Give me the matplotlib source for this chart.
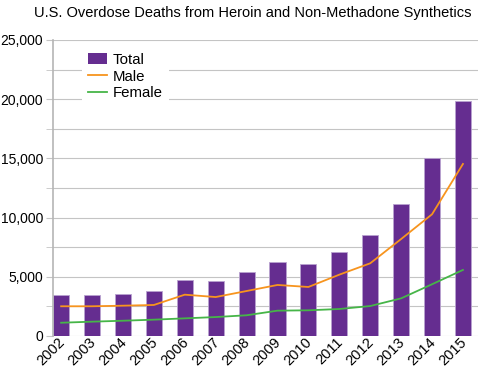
import numpy as np
import matplotlib
matplotlib.use("Agg")
import matplotlib.pyplot as plt
import matplotlib.transforms as mtransforms
from matplotlib.ticker import MultipleLocator, FuncFormatter
from matplotlib.patches import Patch
from matplotlib.lines import Line2D

years = ["2002", "2003", "2004", "2005", "2006", "2007", "2008",
         "2009", "2010", "2011", "2012", "2013", "2014", "2015"]
total = [3460, 3460, 3550, 3770, 4700, 4620, 5380,
         6220, 6050, 7090, 8530, 11150, 15060, 19870]
male = [2510, 2510, 2560, 2620, 3490, 3290, 3800,
        4310, 4140, 5180, 6140, 8190, 10280, 14530]
female = [1120, 1210, 1290, 1380, 1490, 1600, 1750,
          2140, 2170, 2280, 2530, 3180, 4370, 5580]

purple = "#652D90"
orange = "#F7941E"
green = "#46B548"
grid_c = "#C4C4C4"

plt.rcParams['font.family'] = ['Liberation Sans', 'DejaVu Sans']

fig = plt.figure(figsize=(4.8, 3.7), dpi=100)
ax = fig.add_axes([0.110, 0.0919, 0.886, 0.8])

x = np.arange(len(years))
ax.bar(x, total, width=0.52, color=purple, edgecolor="#B9A3D0", linewidth=0.6, zorder=2)
ax.plot(x, male, color=orange, lw=1.3, zorder=3)
ax.plot(x, female, color=green, lw=1.3, zorder=3)

ax.set_xlim(-0.27, 13.49)
ax.set_ylim(0, 25000)
ax.yaxis.set_major_locator(MultipleLocator(5000))
ax.yaxis.set_minor_locator(MultipleLocator(2500))
ax.yaxis.set_major_formatter(FuncFormatter(lambda v, p: f"{int(v):,}"))
ax.grid(axis="y", which="both", color=grid_c, lw=0.8, zorder=0)
ax.set_axisbelow(True)

ax.set_xticks(x)
ax.set_xticklabels(years, rotation=45, ha="right", rotation_mode="anchor", fontsize=10.5)
ax.tick_params(axis="x", length=0, pad=3)
ax.tick_params(axis="y", which="both", length=5, color=grid_c, labelsize=10, pad=2)
# nudge the rotated year labels up and left
shift = mtransforms.ScaledTranslation(-3.5 / 100, 5 / 100, fig.dpi_scale_trans)
for lab in ax.get_xticklabels():
    lab.set_transform(lab.get_transform() + shift)

for s in ["top", "right", "bottom"]:
    ax.spines[s].set_visible(False)
ax.spines["left"].set_color("#B5B5B5")
ax.spines["left"].set_linewidth(1.2)

handles = [Patch(facecolor=purple, edgecolor="none"),
           Line2D([], [], color=orange, lw=1.3),
           Line2D([], [], color=green, lw=1.3)]
leg = ax.legend(handles, ["Total", "Male", "Female"], loc="upper left",
                bbox_to_anchor=(0.05, 1.002), fontsize=10.8, frameon=True,
                facecolor="white", edgecolor="none", framealpha=1,
                handlelength=1.3, handletextpad=0.4, labelspacing=0.18,
                borderpad=0.4, fancybox=False)

fig.text(0.527, 0.965, "U.S. Overdose Deaths from Heroin and Non-Methadone Synthetics",
         ha="center", va="center", fontsize=10.5)

fig.savefig("out.png", dpi=100)
